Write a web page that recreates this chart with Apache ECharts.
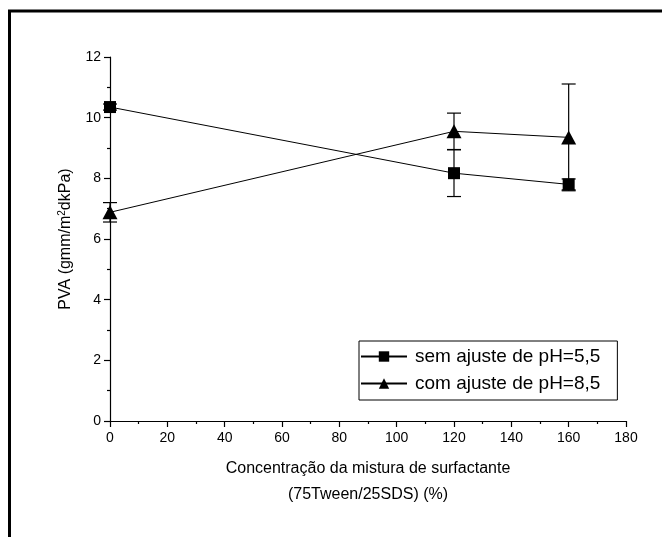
<!DOCTYPE html>
<html>
<head>
<meta charset="utf-8">
<script src="https://cdn.jsdelivr.net/npm/echarts@6/dist/echarts.min.js"></script>
<style>
  html, body { margin: 0; padding: 0; background: #fff; }
  #chart { width: 662px; height: 537px; }
</style>
</head>
<body>
<div id="chart"></div>
<script>
// dados
var xValues = [0, 120, 160];
var semAjuste = [10.35, 8.17, 7.8];
var semErro = [0.1, 0.77, 0.18];
var comAjuste = [6.88, 9.55, 9.35];
var comErro = [0.32, 0.6, 1.76];
var nomes = ['sem ajuste de pH=5,5', 'com ajuste de pH=8,5'];

function pares(vals) {
  var out = [];
  for (var i = 0; i < xValues.length; i++) out.push([xValues[i], vals[i]]);
  return out;
}
function barras(vals, erros) {
  var out = [];
  for (var i = 0; i < xValues.length; i++) out.push([xValues[i], vals[i] - erros[i], vals[i] + erros[i]]);
  return out;
}

// barras de erro
function desenhaErro(params, api) {
  var x = api.value(0);
  var lo = api.coord([x, api.value(1)]);
  var hi = api.coord([x, api.value(2)]);
  var w = 7;
  var st = { stroke: '#000', lineWidth: 1.2 };
  return {
    type: 'group',
    children: [
      { type: 'line', shape: { x1: lo[0], y1: lo[1], x2: hi[0], y2: hi[1] }, style: st },
      { type: 'line', shape: { x1: lo[0] - w, y1: lo[1], x2: lo[0] + w, y2: lo[1] }, style: st },
      { type: 'line', shape: { x1: hi[0] - w, y1: hi[1], x2: hi[0] + w, y2: hi[1] }, style: st }
    ]
  };
}

var fonte = 'Liberation Sans, Arial, sans-serif';
var chart = echarts.init(document.getElementById('chart'));
var option = {
  backgroundColor: '#fff',
  animation: false,
  textStyle: { fontFamily: fonte },
  graphic: [{
    type: 'rect',
    shape: { x: 9.5, y: 11, width: 800, height: 700 },
    style: { fill: 'none', stroke: '#000', lineWidth: 3 },
    z: 100
  }],
  grid: { left: 110, right: 36, top: 57, bottom: 116 },
  legend: {
    orient: 'vertical',
    left: 359,
    top: 341,
    backgroundColor: '#fff',
    borderColor: '#000',
    borderWidth: 1,
    borderRadius: 0,
    padding: [6, 17, 7, 1],
    itemGap: 8,
    itemWidth: 46,
    itemHeight: 13,
    textStyle: { fontSize: 19, color: '#000', fontFamily: fonte, padding: [0, 0, 0, 3] },
    data: nomes
  },
  xAxis: {
    type: 'value',
    min: 0,
    max: 180,
    interval: 20,
    name: 'Concentração da mistura de surfactante\n(75Tween/25SDS) (%)',
    nameLocation: 'middle',
    nameGap: 35,
    nameTextStyle: { fontSize: 16, color: '#000', lineHeight: 26, fontFamily: fonte },
    axisLine: { lineStyle: { color: '#000', width: 1.2 } },
    axisTick: { inside: false, length: 6, lineStyle: { color: '#000', width: 1.2 } },
    minorTick: { show: true, splitNumber: 2, length: 3, lineStyle: { color: '#000', width: 1.2 } },
    axisLabel: { fontSize: 14, color: '#000', margin: 10, fontFamily: fonte },
    splitLine: { show: false }
  },
  yAxis: {
    type: 'value',
    min: 0,
    max: 12,
    interval: 2,
    name: 'PVA (gmm/m{sup|2}dkPa)',
    nameLocation: 'middle',
    nameGap: 36,
    nameTextStyle: {
      fontSize: 16, color: '#000', fontFamily: fonte,
      rich: { sup: { fontSize: 10, color: '#000', fontFamily: fonte, verticalAlign: 'top', padding: [0, 0, 7, 0] } }
    },
    axisLine: { show: true, lineStyle: { color: '#000', width: 1.2 } },
    axisTick: { show: true, inside: false, length: 6, lineStyle: { color: '#000', width: 1.2 } },
    minorTick: { show: true, splitNumber: 2, length: 3, lineStyle: { color: '#000', width: 1.2 } },
    axisLabel: { fontSize: 14, color: '#000', margin: 9, fontFamily: fonte },
    splitLine: { show: false }
  },
  series: [
    {
      name: nomes[0],
      type: 'line',
      data: pares(semAjuste),
      symbol: 'rect',
      symbolSize: 12,
      itemStyle: { color: '#000' },
      lineStyle: { color: '#000', width: 1 },
      z: 3
    },
    {
      name: nomes[1],
      type: 'line',
      data: pares(comAjuste),
      symbol: 'triangle',
      symbolSize: [15, 14],
      itemStyle: { color: '#000' },
      lineStyle: { color: '#000', width: 1 },
      z: 3
    },
    {
      type: 'custom',
      renderItem: desenhaErro,
      data: barras(semAjuste, semErro),
      encode: { x: 0, y: [1, 2] },
      z: 2
    },
    {
      type: 'custom',
      renderItem: desenhaErro,
      data: barras(comAjuste, comErro),
      encode: { x: 0, y: [1, 2] },
      z: 2
    }
  ]
};
chart.setOption(option);
</script>
</body>
</html>
